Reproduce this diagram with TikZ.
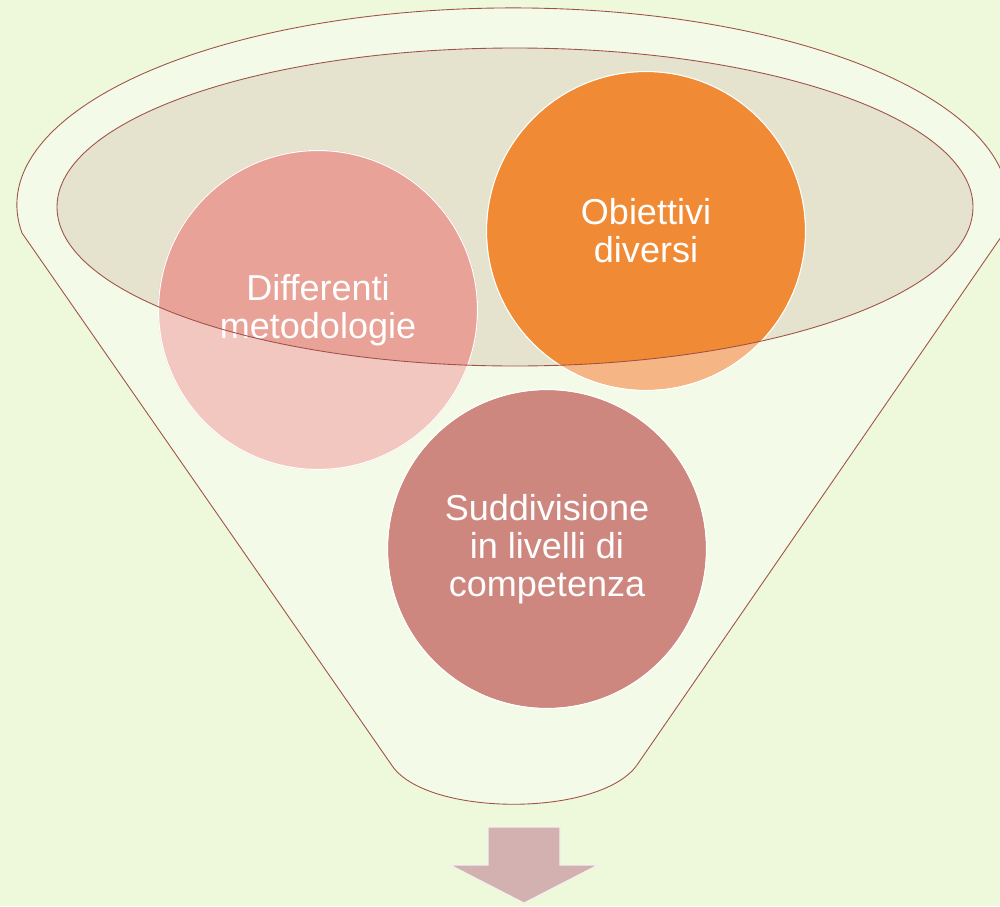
\documentclass[tikz,border=0pt]{standalone}
\usepackage{fontspec}
\setmainfont{Liberation Sans}
\usepackage{tikz}
\usetikzlibrary{positioning,calc}
\definecolor{bgcol}{HTML}{EEF8DA}
\definecolor{funnelfill}{HTML}{F4FAE8}
\definecolor{edgecol}{HTML}{A0524A}
\definecolor{rimfill}{HTML}{E5E2CD}
\definecolor{metodo}{HTML}{E8A298}
\definecolor{metodolight}{HTML}{F2C7C0}
\definecolor{obiet}{HTML}{F08A35}
\definecolor{obietlight}{HTML}{F5B584}
\definecolor{suddiv}{HTML}{CD877F}
\definecolor{arrowfill}{HTML}{D3B1B0}
\tikzstyle{funnel} = [fill=funnelfill, draw=edgecol, line width=0.5pt]
\tikzstyle{rim} = [draw=edgecol, line width=0.5pt]
\tikzstyle{bubble} = [circle, draw=white, line width=0.6pt, minimum size=6.38cm,
    inner sep=0pt, text=white, align=center, font=\fontsize{20.5}{21.6}\selectfont]
\tikzstyle{outarrow} = [fill=arrowfill, draw=white!90!gray, line width=0.6pt]

\begin{document}
\begin{tikzpicture}[x=0.02cm, y=-0.02cm]
		\fill[bgcol] (0,0) rectangle (1000,906);
		\useasboundingbox (0,0) rectangle (1000,906);
		
		% funnel body
		\draw[funnel] (22,233) arc[start angle=171.8, end angle=368.2, x radius=496, y radius=197]
			-- (637,765) .. controls (600,817) and (430,817) .. (393,767) -- cycle;
		
		\coordinate (rimc) at (515,207);
		\fill[rimfill] (rimc) ellipse [x radius=458, y radius=159];
		
		\coordinate (cm) at (318,310);
		\coordinate (co) at (646,231);
		\coordinate (cs) at (547,549);
		
		\fill[metodolight] (cm) circle (160);
		\fill[obietlight] (co) circle (159);
		\fill[suddiv] (cs) circle (159);
		\begin{scope}
			\clip (rimc) ellipse [x radius=458, y radius=159];
			\fill[metodo] (cm) circle (160);
			\fill[obiet] (co) circle (159);
		\end{scope}
		
		\node[bubble] (Metodologie) at (cm) {Differenti\\metodologie};
		\node[bubble] (Obiettivi) at (co) {Obiettivi\\diversi};
		\node[bubble] (Livelli) at (cs) {Suddivisione\\in livelli di\\competenza};
		
		\draw[rim] (rimc) ellipse [x radius=458, y radius=159];
		
		% arrow out of the funnel
		\draw[outarrow] (488,827) -- (560,827) -- (560,865) -- (598,865) -- (524,903)
			-- (450,865) -- (488,865) -- cycle;
	\end{tikzpicture}
\end{document}
